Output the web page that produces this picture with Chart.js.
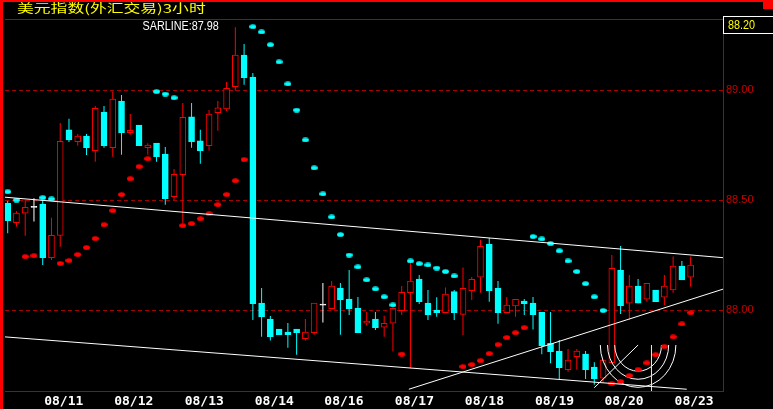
<!DOCTYPE html>
<html><head><meta charset="utf-8">
<script src="https://cdn.jsdelivr.net/npm/chart.js@4/dist/chart.umd.min.js"></script>
<style>html,body{margin:0;padding:0;background:#000;overflow:hidden}canvas{display:block}</style>
</head><body>
<canvas id="c" width="773" height="409"></canvas>
<script>
// ---- text ----
const titleText = '美元指数(外汇交易)3小时';
const sarText = 'SARLINE:87.98';
const lastPriceText = '88.20';
const dateLabels = ['08/11','08/12','08/13','08/14','08/16','08/17','08/18','08/19','08/20','08/23'];
const dateTickPos = [6.4, 14.4, 22.45, 30.45, 38.4, 46.45, 54.45, 62.45, 70.4, 78.4];
const yTicks = [88.00, 88.50, 89.00];

// ---- 3-hour candles ----
const opens = [88.486,88.398,88.441,88.468,88.483,88.239,88.340,88.820,88.766,88.792,
 88.725,88.901,88.739,88.951,88.807,88.842,88.739,88.760,88.710,88.516,
 88.616,88.879,88.770,88.748,88.898,88.915,89.016,89.160,89.060,88.033,
 87.960,87.915,87.901,87.915,87.871,87.898,88.023,88.007,88.101,88.051,
 88.010,87.941,87.960,87.923,87.941,87.998,88.080,88.142,88.033,88.001,
 87.989,88.085,87.981,88.089,88.150,88.301,88.101,87.989,88.020,88.042,
 88.033,87.992,87.850,87.815,87.730,87.789,87.801,87.742,87.691,87.762,
 88.183,88.032,88.110,88.050,88.092,88.059,88.092,88.201,88.150];
const highs = [88.497,88.451,88.501,88.509,88.501,88.421,88.851,88.870,88.801,88.801,
 88.929,88.929,88.994,88.979,88.892,88.842,88.759,88.760,88.742,88.642,
 88.942,88.942,88.820,88.910,88.951,89.038,89.286,89.210,89.079,88.101,
 87.974,87.915,87.942,87.915,87.960,88.033,88.124,88.133,88.124,88.183,
 88.060,87.992,87.992,87.975,88.016,88.110,88.224,88.160,88.092,88.059,
 88.103,88.092,88.194,88.151,88.320,88.329,88.133,88.060,88.050,88.051,
 88.060,87.992,87.992,87.865,87.824,87.824,87.815,87.764,87.774,88.251,
 88.292,88.160,88.142,88.123,88.092,88.160,88.244,88.224,88.244];
const lows = [88.350,88.380,88.339,88.403,88.206,88.229,88.289,88.765,88.748,88.706,
 88.675,88.739,88.698,88.707,88.798,88.748,88.707,88.675,88.480,88.501,
 88.396,88.739,88.666,88.725,88.816,88.906,88.998,89.025,87.956,87.880,
 87.862,87.888,87.830,87.798,87.862,87.889,87.944,88.007,87.889,87.979,
 87.898,87.930,87.910,87.880,87.812,87.979,87.736,88.029,87.956,87.971,
 87.989,87.956,87.888,88.047,88.080,88.039,87.939,87.989,87.971,87.979,
 87.912,87.800,87.759,87.688,87.721,87.730,87.688,87.661,87.670,87.759,
 87.983,87.956,88.032,88.039,88.039,88.023,88.080,88.138,88.107];
const closes = [88.407,88.442,88.468,88.468,88.239,88.341,88.768,88.774,88.792,88.739,
 88.918,88.748,88.960,88.807,88.818,88.748,88.751,88.698,88.507,88.618,
 88.877,88.766,88.724,88.892,88.920,89.009,89.160,89.057,88.030,87.970,
 87.880,87.888,87.889,87.898,87.901,88.033,88.023,88.110,88.047,88.006,
 87.898,87.951,87.921,87.941,88.009,88.082,88.133,88.039,87.979,87.989,
 88.074,87.989,88.100,88.141,88.291,88.089,87.989,88.023,88.050,88.030,
 87.980,87.839,87.812,87.739,87.773,87.815,87.730,87.688,87.774,88.191,
 88.021,88.110,88.032,88.123,88.039,88.110,88.201,88.138,88.205];
// ---- parabolic SAR ----
const sar = [88.539,88.501,88.244,88.248,88.512,88.506,88.213,88.226,88.253,88.285,
 88.326,88.389,88.453,88.526,88.598,88.653,88.689,88.994,88.983,88.966,
 88.385,88.394,88.416,88.439,88.480,88.526,88.589,88.685,89.289,89.265,
 89.207,89.129,89.029,88.910,88.774,88.647,88.529,88.424,88.344,88.251,
 88.197,88.138,88.097,88.061,88.024,87.801,88.224,88.212,88.206,88.192,
 88.176,88.156,87.744,87.753,87.771,87.803,87.844,87.876,87.898,87.921,
 88.335,88.324,88.303,88.270,88.224,88.176,88.121,88.061,87.999,87.667,
 87.676,87.703,87.730,87.761,87.798,87.835,87.879,87.938,87.989];
// ---- drawn lines (index, price) ----
const upperLine = [{x:-0.31, y:88.514}, {x:81.70, y:88.239}];
const lowerLine = [{x:-0.31, y:87.879}, {x:77.56, y:87.641}];
const risingLine = [{x:45.82, y:87.641}, {x:81.70, y:88.096}];
const fibA = {x:67.0, y:87.648};
const fibB = {x:72.0, y:87.842};
const fibRatios = [0.382, 0.5, 0.618];
const markerLine = [{x:73.53, y:87.842}, {x:73.53, y:87.60}];

const xMin = -0.3075, xMax = 81.6975;
const yMin = 87.633, yMax = 89.324;

const RED = '#FF0000', CYAN = '#00FFFF', WHITE = '#FFFFFF';
const idx = opens.map((_, i) => i);
const candleColor = i => closes[i] > opens[i] ? RED : (closes[i] < opens[i] ? CYAN : WHITE);

function dot(color) {
  const c = document.createElement('canvas');
  c.width = 7; c.height = 5;
  const g = c.getContext('2d');
  g.fillStyle = color;
  g.beginPath(); g.ellipse(3.5, 2.5, 3.4, 2.3, 0, 0, Math.PI * 2); g.fill();
  return c;
}

const wickData = idx.map(i => ({x: i, y: [lows[i], highs[i]]}));
const bodyData = idx.map(i => ({x: i, y: [Math.min(opens[i], closes[i]), Math.max(opens[i], closes[i])]}));
const sarPts = sar.map((v, i) => ({x: i, y: v}));
const sarBelow = sarPts.filter(p => p.y < closes[p.x]);
const sarAbove = sarPts.filter(p => p.y >= closes[p.x]);

const lineDs = (data, color, order) => ({type: 'line', data, borderColor: color, borderWidth: 1,
  pointRadius: 0, tension: 0, fill: false, order});

const BODY_INDEX = 7;

const decor = {
  id: 'decor',
  beforeDraw(chart) {
    const c = chart.ctx;
    c.save();
    c.fillStyle = '#000'; c.fillRect(0, 0, 773, 409);
    c.fillStyle = '#FF0000';
    c.fillRect(0, 0, 3, 409);
    c.fillRect(0, 0, 773, 2);
    c.fillRect(763, 0, 10, 9);
    c.fillStyle = '#B00000';
    c.fillRect(chart.chartArea.left, chart.chartArea.top, chart.chartArea.right - chart.chartArea.left + 1, 1);
    c.restore();
  },
  afterDatasetDraw(chart, args) {
    if (args.index !== BODY_INDEX) return;
    const c = chart.ctx, xs = chart.scales.x, ys = chart.scales.y, a = chart.chartArea;
    const cx = xs.getPixelForValue(fibB.x), cy = ys.getPixelForValue(fibB.y);
    const ax = xs.getPixelForValue(fibA.x), ay = ys.getPixelForValue(fibA.y);
    const R = Math.hypot(cx - ax, cy - ay);
    c.save();
    c.beginPath(); c.rect(a.left, a.top, a.right - a.left, a.bottom - a.top); c.clip();
    c.strokeStyle = WHITE; c.lineWidth = 1;
    fibRatios.forEach(r => {
      c.beginPath(); c.ellipse(cx, cy, R * r, R * r * 1.12, 0, 0, Math.PI); c.stroke();
    });
    c.restore();
  },
  afterDraw(chart) {
    const c = chart.ctx;
    c.save();
    // title
    c.fillStyle = '#FFFF00';
    c.textBaseline = 'middle';
    c.font = '12px "Noto Sans CJK SC"';
    c.translate(17, 8); c.scale(1.4, 1);
    c.fillText(titleText, 0, 0);
    c.restore();
    c.save();
    c.fillStyle = WHITE;
    c.textBaseline = 'middle';
    c.font = '12px "Liberation Sans"';
    c.translate(142.5, 26.5); c.scale(0.9, 1);
    c.fillText(sarText, 0, 0);
    c.restore();
    // last price box
    c.save();
    c.fillStyle = '#000'; c.fillRect(724, 17, 49, 16);
    c.strokeStyle = WHITE; c.lineWidth = 1;
    c.strokeRect(723.5, 16.5, 60, 17);
    c.fillStyle = '#FFFF00';
    c.textBaseline = 'middle';
    c.font = '12px "Liberation Sans"';
    c.translate(728, 25.5); c.scale(0.9, 1);
    c.fillText(lastPriceText, 0, 0);
    c.restore();
  }
};

new Chart(document.getElementById('c'), {
  type: 'bar',
  data: { datasets: [
    lineDs(upperLine, WHITE, 1),
    lineDs(lowerLine, WHITE, 1),
    lineDs(risingLine, WHITE, 1),
    lineDs([fibA, fibB], WHITE, 1),
    lineDs(markerLine, '#FFFF00', 1),
    {type: 'line', data: sarBelow, showLine: false, pointStyle: dot(RED), pointRadius: 3, order: 2},
    {type: 'line', data: sarAbove, showLine: false, pointStyle: dot(CYAN), pointRadius: 3, order: 2},
    {type: 'bar', data: bodyData, grouped: false, barThickness: 6, minBarLength: 1,
      backgroundColor: idx.map(i => { const k = candleColor(i); return k === RED ? '#000' : k; }),
      borderColor: idx.map(candleColor), borderWidth: 1, borderSkipped: false, order: 3},
    {type: 'bar', data: wickData, grouped: false, barThickness: 1, inflateAmount: 0,
      backgroundColor: idx.map(candleColor), borderWidth: 0, order: 4}
  ]},
  options: {
    responsive: false, animation: false, devicePixelRatio: 1, events: [],
    layout: {padding: {left: 3, top: 19, right: 0, bottom: 0}},
    plugins: {legend: {display: false}, tooltip: {enabled: false}, title: {display: false}},
    scales: {
      x: {type: 'linear', position: 'bottom', min: xMin, max: xMax, offset: false,
        grid: {display: false, drawTicks: false},
        border: {display: true, color: '#B00000', width: 1},
        afterBuildTicks: s => { s.ticks = dateTickPos.map(v => ({value: v})); },
        afterFit: s => { s.height = 18; },
        ticks: {color: WHITE, font: {family: 'DejaVu Sans Mono', size: 13, weight: 'bold'},
          autoSkip: false, maxRotation: 0, minRotation: 0, padding: 3,
          callback: (v, i) => dateLabels[i]}},
      y: {type: 'linear', position: 'right', min: yMin, max: yMax,
        grid: {color: '#A80000', lineWidth: 1, drawTicks: false},
        border: {display: true, color: '#B00000', width: 1, dash: [4, 3]},
        afterBuildTicks: s => { s.ticks = yTicks.map(v => ({value: v})); },
        afterFit: s => { s.width = 50; },
        ticks: {color: '#C80000', font: {family: 'Liberation Sans', size: 11}, padding: 3,
          callback: v => Number(v).toFixed(2)}}
    }
  },
  plugins: [decor]
});
</script>
</body></html>
